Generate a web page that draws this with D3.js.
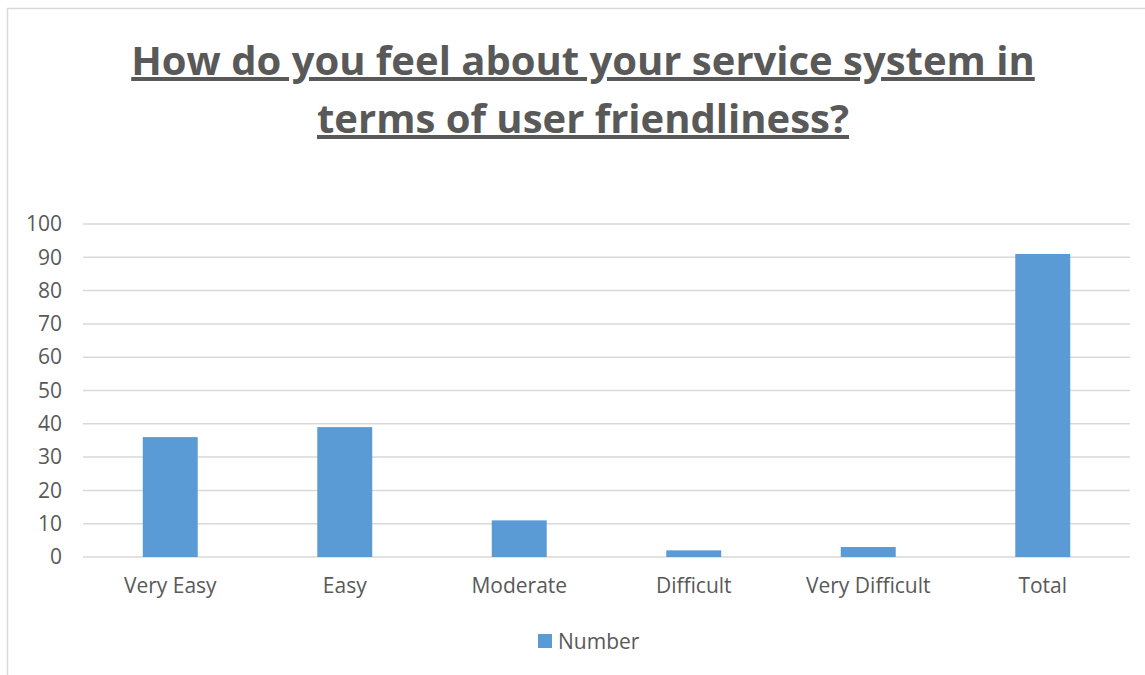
<!DOCTYPE html>
<html>
<head>
<meta charset="utf-8">
<script src="https://cdn.jsdelivr.net/npm/d3@7"></script>
<style>
  body { margin: 0; background: #fff; }
  text { font-family: "Open Sans", "Noto Sans", sans-serif; fill: #595959; }
</style>
</head>
<body>
<script>
// chart data
var categories = ["Very Easy", "Easy", "Moderate", "Difficult", "Very Difficult", "Total"];
var values = [36, 39, 11, 2, 3, 91];
var yTicks = [0, 10, 20, 30, 40, 50, 60, 70, 80, 90, 100];
var seriesName = "Number";
var titleLines = ["How do you feel about your service system in", "terms of user friendliness?"];

var W = 1145, H = 675;
var margin = { top: 224, right: 15, bottom: 118, left: 83 },
    width = W - margin.left - margin.right,
    height = H - margin.top - margin.bottom;

var svg = d3.select("body").append("svg")
    .attr("width", W)
    .attr("height", H);

// chart frame
svg.append("rect")
    .attr("x", 7.5).attr("y", 8.5)
    .attr("width", W).attr("height", H)
    .attr("fill", "none")
    .attr("stroke", "#d9d9d9")
    .attr("stroke-width", 1.5);

// title
var title = svg.append("g");
titleLines.forEach(function (t, i) {
    title.append("text")
        .attr("x", 583)
        .attr("y", 75 + i * 58)
        .attr("text-anchor", "middle")
        .style("font-size", "40px")
        .style("font-weight", "bold")
        .style("text-decoration", "underline")
        .text(t);
});

var g = svg.append("g")
    .attr("transform", "translate(" + margin.left + "," + margin.top + ")");

// set the ranges
var x = d3.scaleBand()
    .domain(categories)
    .range([0, width])
    .paddingInner(0.685)
    .paddingOuter(0.3425);
var y = d3.scaleLinear()
    .domain([0, 100])
    .range([height, 0]);

// gridlines
g.selectAll(".grid")
    .data(yTicks)
    .enter().append("line")
    .attr("class", "grid")
    .attr("x1", 0).attr("x2", width)
    .attr("y1", function (d) { return y(d); })
    .attr("y2", function (d) { return y(d); })
    .attr("stroke", "#d9d9d9")
    .attr("stroke-width", 1.5);

// bars
g.selectAll(".bar")
    .data(values)
    .enter().append("rect")
    .attr("class", "bar")
    .attr("x", function (d, i) { return x(categories[i]); })
    .attr("width", x.bandwidth())
    .attr("y", function (d) { return y(d); })
    .attr("height", function (d) { return height - y(d); })
    .attr("fill", "#5b9bd5");

// y axis
var yAxis = g.append("g")
    .call(d3.axisLeft(y).tickValues(yTicks).tickSize(0).tickPadding(21));
yAxis.select(".domain").remove();
yAxis.selectAll("text").style("font-size", "21px").attr("fill", "#595959");

// x axis
var xAxis = g.append("g")
    .attr("transform", "translate(0," + height + ")")
    .call(d3.axisBottom(x).tickSize(0).tickPadding(21));
xAxis.select(".domain").remove();
xAxis.selectAll("text").style("font-size", "21px").attr("fill", "#595959");

// legend
var legend = svg.append("g")
    .attr("transform", "translate(538,634)");
legend.append("rect")
    .attr("width", 14).attr("height", 14)
    .attr("fill", "#5b9bd5");
legend.append("text")
    .attr("x", 20).attr("y", 15)
    .style("font-size", "21px")
    .text(seriesName);
</script>
</body>
</html>
